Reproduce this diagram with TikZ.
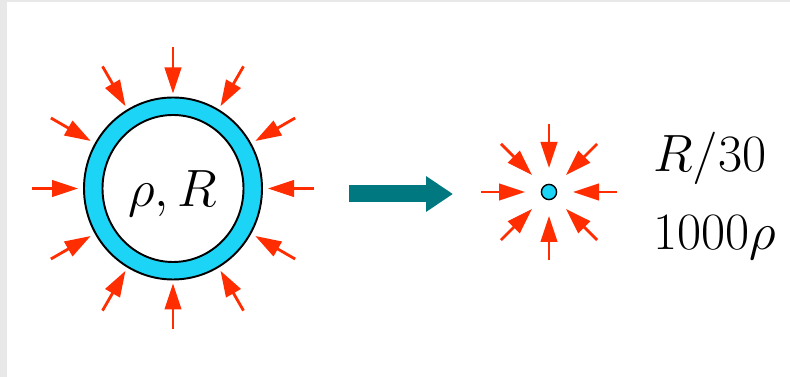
\documentclass[tikz,border=0pt]{standalone}
\usepackage{amsmath}
\usepackage{graphicx}
\usepackage{tikz}
\usetikzlibrary{arrows.meta,calc}
\definecolor{pushred}{RGB}{255,45,0}
\definecolor{shellcyan}{RGB}{28,212,246}
\definecolor{arrowteal}{RGB}{0,120,128}
\definecolor{edgegray}{RGB}{232,232,232}
\newcommand{\bigmath}[1]{\scalebox{1.2}{\Huge$#1$}}

\begin{document}
\begin{tikzpicture}[x=0.02cm,y=-0.02cm,
    push/.style={pushred,line width=1.6pt,-{Triangle[length=0.52cm,width=0.33cm]}},
    bigtxt/.style={inner sep=0pt}]
  \useasboundingbox (0,0) rectangle (790,377);
  \fill[edgegray] (0,0) rectangle (790,377);
  \fill[white] (7,2.5) rectangle (790,377);
  % the shell before the collapse
  \coordinate (shell) at (173,188.5);
  \fill[shellcyan,draw=black,line width=1.1pt] (shell) ellipse[x radius=89,y radius=91];
  \fill[white,draw=black,line width=1.1pt] (shell) ellipse[x radius=70.5,y radius=73.5];
  \node[bigtxt,anchor=base] (rhoR) at (173,207) {\bigmath{\rho, R}};
  \foreach \a in {0,30,...,330}
    \draw[push] ($(shell)+(\a:141)$) -- ($(shell)+(\a:95)$);
  % collapse arrow
  \coordinate (from) at (349,194);
  \coordinate (to) at (453,194);
  \draw[arrowteal,line width=0.34cm,-{Triangle[length=0.54cm,width=0.68cm]}] (from) -- (to);
  % the small dense core
  \coordinate (core) at (549,192);
  \foreach \a in {0,45,...,315}
    \draw[push] ($(core)+(\a:68)$) -- ($(core)+(\a:24)$);
  \fill[shellcyan,draw=black,line width=0.8pt] (core) circle[radius=7.6];
  \node[bigtxt,anchor=base west] (radius) at (653,172) {\bigmath{R/30}};
  \node[bigtxt,anchor=base west] (density) at (653,250) {\bigmath{1000\rho}};
\end{tikzpicture}
\end{document}
